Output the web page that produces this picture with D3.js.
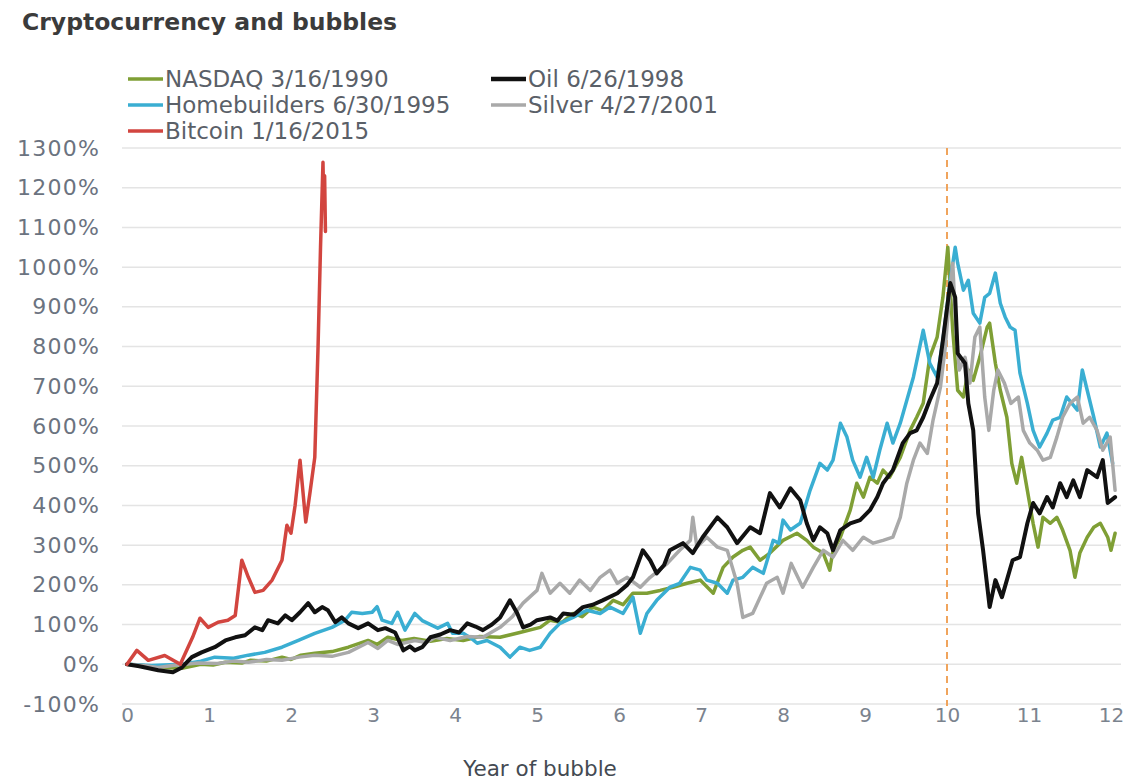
<!DOCTYPE html>
<html>
<head>
    <title>Cryptocurrency and bubbles</title>
    <script src="https://d3js.org/d3.v7.min.js"></script>
    <style>
        body {
            margin: 0;
            background: #fff;
            font-family: "DejaVu Sans", sans-serif;
        }
        .grid line {
            stroke: #e4e4e4;
            stroke-width: 1.5;
        }
        .series {
            fill: none;
            stroke-linejoin: round;
            stroke-linecap: round;
        }
    </style>
</head>
<body>
    <div id="chart"></div>

    <script>
        // Chart data (year of bubble, % gain)
        const nasdaq = [[0,0],[0.2,-3],[0.4,-8],[0.67,-10],[0.9,0],[1.05,-2],[1.2,5],[1.4,3],[1.5,10],[1.7,8],[1.89,18],[2.0,12],[2.12,23],[2.29,28],[2.5,32],[2.7,43],[2.94,60],[3.05,50],[3.18,68],[3.35,60],[3.5,65],[3.7,58],[3.9,65],[4.1,60],[4.3,70],[4.55,68],[4.79,80],[5.04,93],[5.16,111],[5.3,105],[5.44,128],[5.55,120],[5.68,144],[5.8,135],[5.93,161],[6.05,150],[6.17,179],[6.34,179],[6.5,186],[6.66,194],[6.83,204],[6.99,212],[7.15,179],[7.27,244],[7.39,270],[7.51,287],[7.6,295],[7.72,262],[7.84,280],[8.0,312],[8.17,330],[8.29,312],[8.37,295],[8.49,280],[8.57,237],[8.61,287],[8.7,320],[8.82,388],[8.9,456],[8.98,421],[9.06,471],[9.15,456],[9.22,489],[9.3,471],[9.43,521],[9.55,589],[9.63,622],[9.71,657],[9.79,773],[9.88,824],[9.95,924],[10.01,1050],[10.07,841],[10.13,690],[10.2,673],[10.26,741],[10.32,715],[10.4,773],[10.49,849],[10.52,859],[10.59,758],[10.65,690],[10.73,622],[10.79,506],[10.85,456],[10.91,521],[10.98,438],[11.05,355],[11.11,295],[11.17,370],[11.26,355],[11.34,370],[11.41,338],[11.5,287],[11.56,219],[11.62,280],[11.71,320],[11.79,345],[11.87,355],[11.96,320],[12.0,287],[12.05,330]];

        const oil = [[0,0],[0.15,-5],[0.38,-15],[0.56,-20],[0.67,-8],[0.79,18],[0.91,30],[1.07,43],[1.2,60],[1.32,68],[1.44,73],[1.56,93],[1.65,86],[1.72,111],[1.84,103],[1.93,123],[2.01,111],[2.11,131],[2.21,154],[2.29,131],[2.38,144],[2.45,136],[2.54,106],[2.62,118],[2.7,103],[2.82,91],[2.94,103],[3.06,86],[3.15,91],[3.27,80],[3.37,35],[3.45,45],[3.51,35],[3.6,43],[3.7,68],[3.82,75],[3.94,86],[4.05,80],[4.15,103],[4.25,95],[4.34,86],[4.45,100],[4.55,118],[4.67,161],[4.76,128],[4.83,93],[4.92,100],[5.0,111],[5.16,118],[5.25,110],[5.32,128],[5.45,125],[5.56,144],[5.68,150],[5.8,161],[5.98,179],[6.1,200],[6.17,219],[6.29,287],[6.38,262],[6.46,229],[6.55,250],[6.62,287],[6.78,305],[6.9,280],[7.02,320],[7.2,370],[7.32,345],[7.44,305],[7.6,345],[7.72,330],[7.84,431],[7.96,395],[8.09,443],[8.21,413],[8.29,355],[8.37,312],[8.45,345],[8.54,330],[8.61,287],[8.7,338],[8.82,355],[8.94,363],[9.06,388],[9.15,421],[9.22,456],[9.34,489],[9.46,557],[9.55,582],[9.63,589],[9.71,622],[9.79,665],[9.88,708],[9.95,816],[10.04,960],[10.1,924],[10.13,783],[10.22,758],[10.26,657],[10.32,589],[10.38,380],[10.44,287],[10.52,144],[10.59,212],[10.67,169],[10.73,212],[10.8,262],[10.89,270],[10.98,355],[11.05,406],[11.13,380],[11.22,421],[11.29,395],[11.38,456],[11.46,421],[11.54,463],[11.62,421],[11.71,489],[11.83,471],[11.9,514],[11.96,406],[12.05,421]];

        const homebuilders = [[0,0],[0.3,-3],[0.67,0],[0.9,8],[1.07,18],[1.3,15],[1.48,23],[1.68,30],[1.89,43],[2.09,60],[2.29,78],[2.5,93],[2.66,111],[2.74,131],[2.87,128],[2.99,131],[3.05,145],[3.11,111],[3.23,103],[3.3,131],[3.39,86],[3.51,128],[3.6,110],[3.67,103],[3.79,91],[3.91,103],[3.97,78],[4.1,78],[4.2,65],[4.27,53],[4.39,60],[4.55,43],[4.67,18],[4.79,43],[4.91,35],[5.04,43],[5.16,78],[5.28,103],[5.44,118],[5.61,136],[5.77,128],[5.89,144],[6.05,128],[6.17,169],[6.26,78],[6.34,128],[6.46,161],[6.62,194],[6.74,204],[6.87,244],[6.99,237],[7.07,212],[7.2,204],[7.32,179],[7.39,212],[7.51,219],[7.63,244],[7.76,229],[7.88,312],[7.95,305],[8.0,363],[8.09,338],[8.21,355],[8.33,438],[8.45,506],[8.54,489],[8.61,514],[8.7,607],[8.78,572],[8.85,514],[8.94,471],[9.02,521],[9.1,471],[9.18,539],[9.27,607],[9.34,557],[9.43,607],[9.51,665],[9.59,723],[9.71,841],[9.79,758],[9.88,723],[9.95,816],[10.04,967],[10.1,1050],[10.13,1010],[10.2,942],[10.26,967],[10.32,884],[10.4,859],[10.46,924],[10.52,934],[10.59,985],[10.65,909],[10.71,874],[10.77,849],[10.83,841],[10.89,733],[10.98,657],[11.05,589],[11.13,547],[11.22,582],[11.29,615],[11.38,622],[11.46,673],[11.59,640],[11.65,741],[11.71,690],[11.79,622],[11.87,547],[11.95,582],[12.02,506]];

        const silver = [[0,0],[0.2,-3],[0.38,-8],[0.6,-2],[0.87,3],[1.1,2],[1.3,8],[1.48,5],[1.7,12],[1.89,10],[2.1,18],[2.29,23],[2.5,20],[2.7,30],[2.94,55],[3.06,40],[3.18,60],[3.3,50],[3.51,60],[3.65,55],[3.76,68],[3.94,60],[4.15,70],[4.34,68],[4.55,93],[4.7,120],[4.83,154],[5.0,186],[5.06,229],[5.16,179],[5.28,204],[5.4,179],[5.52,212],[5.65,186],[5.77,219],[5.89,237],[5.98,204],[6.1,219],[6.26,194],[6.38,219],[6.59,254],[6.74,287],[6.87,312],[6.9,370],[6.95,295],[7.07,320],[7.2,295],[7.32,287],[7.44,204],[7.51,118],[7.63,128],[7.8,204],[7.93,219],[8.0,179],[8.1,254],[8.24,194],[8.37,244],[8.49,287],[8.61,270],[8.73,312],[8.85,287],[8.98,320],[9.1,305],[9.22,312],[9.34,320],[9.43,370],[9.51,456],[9.59,514],[9.67,557],[9.76,531],[9.83,615],[9.92,698],[9.98,800],[10.03,924],[10.07,1010],[10.11,841],[10.15,741],[10.22,773],[10.28,708],[10.34,824],[10.4,849],[10.46,673],[10.51,589],[10.57,690],[10.62,741],[10.7,708],[10.78,657],[10.87,673],[10.93,589],[11.01,557],[11.1,539],[11.17,514],[11.26,521],[11.34,572],[11.41,622],[11.5,657],[11.59,673],[11.66,607],[11.74,622],[11.83,589],[11.9,539],[11.99,572],[12.05,438]];

        const bitcoin = [[0,0],[0.12,35],[0.26,10],[0.46,22],[0.65,0],[0.8,68],[0.89,116],[0.99,93],[1.11,106],[1.23,111],[1.32,123],[1.4,262],[1.48,219],[1.56,181],[1.66,186],[1.77,212],[1.89,262],[1.95,350],[2.0,330],[2.05,400],[2.11,514],[2.18,358],[2.23,430],[2.29,521],[2.33,800],[2.36,1050],[2.39,1264],[2.4,1150],[2.41,1230],[2.42,1090]];

        const seriesNames = ['NASDAQ 3/16/1990', 'Oil 6/26/1998', 'Homebuilders 6/30/1995', 'Silver 4/27/2001', 'Bitcoin 1/16/2015'];
        const xTicks = [0, 1, 2, 3, 4, 5, 6, 7, 8, 9, 10, 11, 12];
        const yTicks = [-100, 0, 100, 200, 300, 400, 500, 600, 700, 800, 900, 1000, 1100, 1200, 1300];
        const peakYear = 10;

        const width = 1131, height = 780;
        const colors = {
            'NASDAQ 3/16/1990': '#7f9f35',
            'Oil 6/26/1998': '#111111',
            'Homebuilders 6/30/1995': '#3aaed2',
            'Silver 4/27/2001': '#a9a9a9',
            'Bitcoin 1/16/2015': '#d2453f'
        };

        const svg = d3.select('#chart')
            .append('svg')
            .attr('width', width)
            .attr('height', height);

        svg.append('rect').attr('width', width).attr('height', height).attr('fill', '#fff');

        // Scales
        const x = d3.scaleLinear().domain([0, 12]).range([127, 1111]);
        const y = d3.scaleLinear().domain([-100, 1300]).range([704, 148]);

        // Title
        svg.append('text')
            .attr('x', 22).attr('y', 30)
            .attr('font-size', 23.5)
            .attr('font-weight', 'bold')
            .attr('fill', '#3b3b3b')
            .text('Cryptocurrency and bubbles');

        // Gridlines
        svg.append('g').attr('class', 'grid')
            .selectAll('line')
            .data(yTicks)
            .join('line')
            .attr('x1', 122).attr('x2', 1121)
            .attr('y1', d => y(d)).attr('y2', d => y(d));

        // Y axis labels
        const yAxis = d3.axisLeft(y).tickValues(yTicks).tickSize(0).tickPadding(0).tickFormat(d => d + '%');
        svg.append('g')
            .attr('transform', 'translate(100,0)')
            .call(yAxis)
            .call(g => g.select('.domain').remove())
            .selectAll('text')
            .attr('font-family', '"DejaVu Sans", sans-serif')
            .attr('font-size', 22)
            .attr('letter-spacing', 1.2)
            .attr('fill', '#6b7380');

        // X axis labels
        const xAxis = d3.axisBottom(x).tickValues(xTicks).tickSize(0).tickPadding(0);
        svg.append('g')
            .attr('transform', 'translate(0,704)')
            .call(xAxis)
            .call(g => g.select('.domain').remove())
            .selectAll('text')
            .attr('dy', '0.5em')
            .attr('y', 8)
            .attr('font-family', '"DejaVu Sans", sans-serif')
            .attr('font-size', 20)
            .attr('fill', '#7b838e');

        svg.append('text')
            .attr('x', 540).attr('y', 776)
            .attr('text-anchor', 'middle')
            .attr('font-size', 21.5)
            .attr('fill', '#444a52')
            .text('Year of bubble');

        // Peak marker
        svg.append('line')
            .attr('x1', x(peakYear)).attr('x2', x(peakYear))
            .attr('y1', 148).attr('y2', 706)
            .attr('stroke', '#f0a45c')
            .attr('stroke-width', 2)
            .attr('stroke-dasharray', '7,5');

        // Series lines
        const line = d3.line().x(d => x(d[0])).y(d => y(d[1]));
        const drawOrder = [
            { name: 'NASDAQ 3/16/1990', data: nasdaq, w: 3.5 },
            { name: 'Homebuilders 6/30/1995', data: homebuilders, w: 3.5 },
            { name: 'Silver 4/27/2001', data: silver, w: 3.5 },
            { name: 'Oil 6/26/1998', data: oil, w: 4 },
            { name: 'Bitcoin 1/16/2015', data: bitcoin, w: 3.5 }
        ];
        svg.append('g')
            .selectAll('path')
            .data(drawOrder)
            .join('path')
            .attr('class', 'series')
            .attr('d', d => line(d.data))
            .attr('stroke', d => colors[d.name])
            .attr('stroke-width', d => d.w);

        // Legend
        const legendPos = [
            { col: 0, row: 0 }, { col: 1, row: 0 },
            { col: 0, row: 1 }, { col: 1, row: 1 },
            { col: 0, row: 2 }
        ];
        const legend = svg.append('g');
        seriesNames.forEach((name, i) => {
            const lx = legendPos[i].col === 0 ? 128 : 491;
            const ly = 79 + legendPos[i].row * 26;
            const item = legend.append('g').attr('transform', `translate(${lx},${ly})`);
            item.append('line')
                .attr('x1', 0).attr('x2', 35)
                .attr('stroke', colors[name])
                .attr('stroke-width', name.startsWith('Oil') ? 4.5 : 3.5);
            item.append('text')
                .attr('x', 37).attr('dy', '0.36em')
                .attr('font-size', 23)
                .attr('fill', '#5a6068')
                .text(name);
        });
    </script>
</body>
</html>
